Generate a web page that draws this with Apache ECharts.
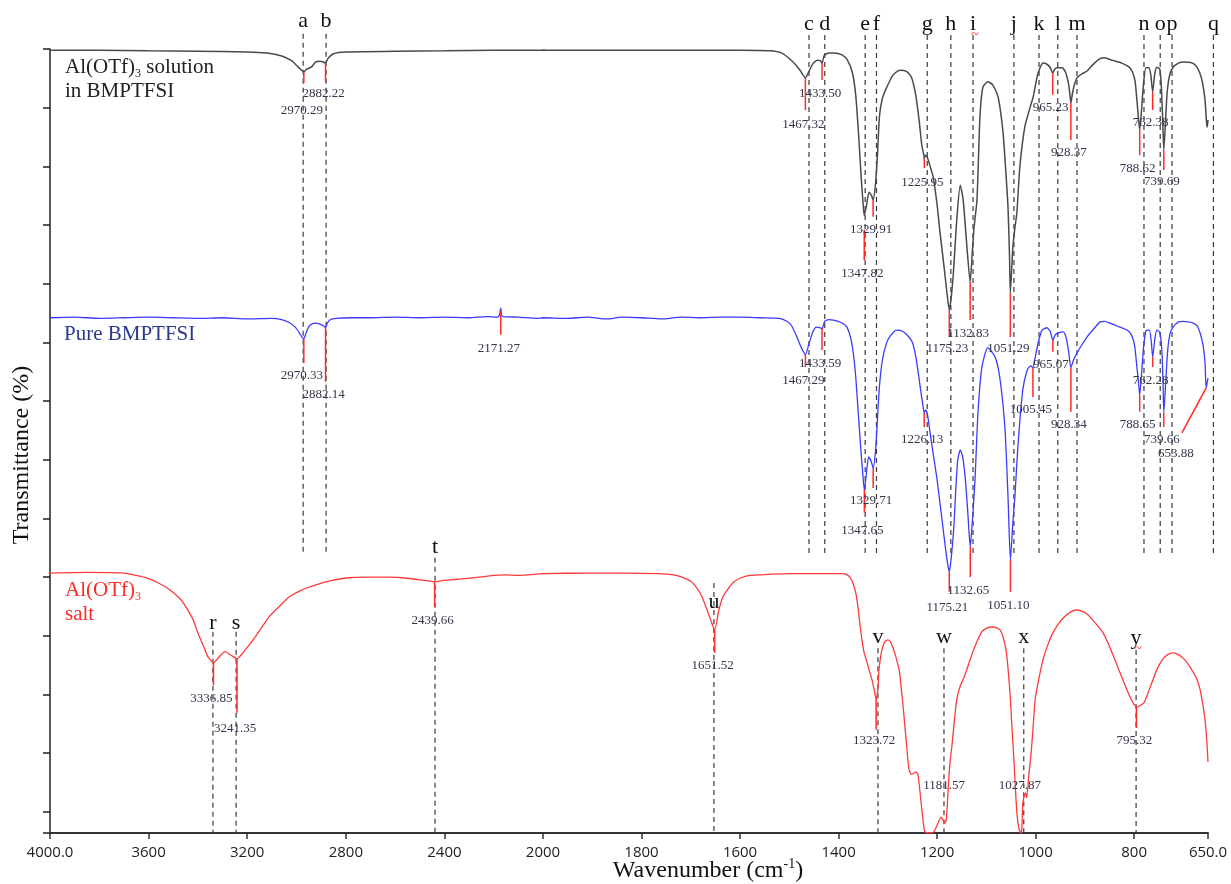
<!DOCTYPE html>
<html>
<head>
<meta charset="utf-8">
<script src="https://cdn.jsdelivr.net/npm/echarts@6/dist/echarts.min.js"></script>
<style>html,body{margin:0;padding:0;background:#fff}#chart{width:1231px;height:884px}</style>
</head>
<body>
<div id="chart"></div>
<script>
// ---------- tick labels ----------
const xTicksHigh = [4000, 3600, 3200, 2800, 2400, 2000];
const xTicksLow = [1800, 1600, 1400, 1200, 1000, 800, 650];
const yTicks = [0, 10, 20, 30, 40, 50, 60, 70, 80, 90, 100, 110, 120, 130];

// ---------- spectra [wavenumber cm-1, transmittance (offset, arb.)] ----------
const solutionSpectrum = [
[4000,129.8],[3800,129.8],[3600,129.7],[3400,129.6],[3200,129.5],[3120,129.3],[3060,128.8],[3020,128.0],[2995,127.0],[2982,126.5],[2970.29,126.1],[2958,126.6],[2940,126.9],[2922,127.8],[2905,127.9],[2892,127.8],[2882.22,127.6],[2872,128.4],[2850,129.2],[2800,129.5],[2600,129.6],[2400,129.7],[2200,129.8],[2000,129.8],[1800,129.8],[1600,129.8],[1540,129.7],[1515,129.3],[1495,128.0],[1480,126.6],[1467.32,125.1],[1460,126.2],[1452,127.5],[1443,128.1],[1437,128.0],[1433.5,127.6],[1429,128.9],[1420,129.3],[1410,129.3],[1393,129.0],[1382,128.1],[1372,126.0],[1365,122.0],[1359,115.0],[1354,108.0],[1350,103.5],[1347.82,101.6],[1343,103.5],[1338,105.6],[1333,105.0],[1329.91,104.3],[1325,107.0],[1321,112.0],[1317,118.5],[1311,121.6],[1302,123.5],[1290,125.5],[1276,126.4],[1262,126.2],[1252,125.2],[1243,122.0],[1236,117.5],[1231,113.6],[1227,112.0],[1225.95,111.4],[1223,111.9],[1220,111.6],[1214,110.0],[1208,108.2],[1200,103.5],[1194,98.7],[1186,93.0],[1180,88.5],[1175.23,85.5],[1168,90.6],[1160,100.9],[1153,106.8],[1147,104.3],[1139,95.8],[1132.83,90.3],[1128,96.0],[1125,99.5],[1119,104.3],[1113,118.4],[1107,123.5],[1097,124.4],[1087,123.9],[1076,121.8],[1066,115.7],[1060,108.5],[1056,103.0],[1053,95.0],[1051.29,88.4],[1046,96.5],[1042,99.5],[1038,102.1],[1032,109.9],[1022,116.7],[1011,120.1],[1005,121.8],[995,125.9],[985,127.6],[977,127.4],[970,126.8],[965.23,125.9],[961,126.6],[955,126.8],[946,126.8],[939,126.0],[933,124.0],[930,122.0],[928.37,120.8],[925,122.5],[921,124.0],[915,125.2],[905,125.8],[896,126.2],[884,127.3],[870,128.3],[860,128.5],[845,128.1],[825,127.6],[810,126.9],[803,126.0],[798,124.5],[794,121.0],[791,118.0],[788.62,116.2],[785,119.5],[781,124.0],[776,126.8],[770,126.8],[766,125.5],[762.38,122.7],[758,125.8],[754,126.9],[748,126.6],[745,124.0],[742,118.0],[739.69,112.8],[736,118.0],[733,122.5],[728,125.5],[721,126.9],[710,127.6],[700,127.8],[685,127.7],[675,127.2],[667,126.0],[661,124.2],[656,121.3],[653,117.5],[651.5,116.7],[650,117.9]
];
const pureSpectrum = [
[4000,84.2],[3900,84.3],[3800,84.1],[3700,84.2],[3600,84.3],[3500,84.2],[3400,84.1],[3300,84.2],[3200,84.0],[3100,84.1],[3060,83.9],[3030,83.4],[3005,82.6],[2988,81.6],[2978,80.9],[2970.33,80.6],[2962,81.5],[2950,82.7],[2935,83.2],[2920,83.3],[2905,83.1],[2890,82.8],[2882.14,82.5],[2875,83.3],[2862,83.9],[2840,84.1],[2780,84.2],[2700,84.2],[2600,84.3],[2500,84.2],[2400,84.3],[2300,84.2],[2230,84.4],[2185,84.3],[2176,84.7],[2171.27,85.9],[2168,84.6],[2160,84.4],[2100,84.3],[2020,84.1],[2000,84.2],[1950,84.1],[1910,84.3],[1870,84.0],[1840,84.3],[1800,84.2],[1760,84.0],[1720,84.3],[1680,84.2],[1640,84.3],[1600,84.3],[1560,84.2],[1520,84.1],[1505,83.6],[1495,82.8],[1485,81.0],[1476,79.2],[1467.29,77.9],[1460,79.8],[1452,81.8],[1445,82.6],[1438,82.5],[1433.59,82.3],[1428,83.6],[1420,83.9],[1410,83.8],[1395,83.4],[1383,82.6],[1373,79.8],[1366,75.0],[1360,68.0],[1355,62.0],[1350,56.8],[1347.65,54.9],[1343,58.0],[1339,60.5],[1334,59.8],[1329.71,58.6],[1325,61.5],[1321,67.0],[1317,72.5],[1311,77.0],[1303,79.8],[1295,81.1],[1282,82.1],[1270,81.9],[1258,81.0],[1250,80.0],[1243,77.5],[1236,73.5],[1231,70.5],[1228,68.9],[1226.13,68.0],[1223,68.5],[1219,67.5],[1213,63.9],[1206,60.0],[1200,56.6],[1190,49.8],[1183,45.0],[1178,42.0],[1175.21,40.9],[1171,43.5],[1166,48.5],[1162,55.0],[1158,60.0],[1153,61.7],[1148,60.5],[1143,57.0],[1138,51.5],[1135,47.5],[1132.65,45.2],[1128,50.0],[1123,56.6],[1117,68.0],[1109,75.8],[1097,79.1],[1082,77.5],[1072,73.6],[1062,65.1],[1056,53.7],[1051.1,42.9],[1046,49.5],[1042,53.7],[1036,62.2],[1026,71.9],[1017,75.3],[1010,76.0],[1005.45,75.7],[1000,77.8],[994,80.2],[987,82.1],[977,82.5],[970,81.8],[965.07,80.4],[960,81.3],[955,81.6],[944,81.8],[938,80.8],[933,78.5],[928.34,75.7],[923,77.0],[916,78.2],[906,79.6],[895,81.0],[880,82.5],[869,83.5],[860,83.6],[849,83.3],[835,82.8],[825,82.5],[812,82.0],[805,81.2],[799,79.5],[794,75.5],[790,72.3],[788.65,71.0],[785,74.5],[781,79.0],[776,82.0],[769,82.1],[765,80.0],[762.28,77.5],[758,80.5],[754,82.1],[748,81.7],[744,79.0],[741.5,74.0],[739.66,68.0],[736,73.0],[732,78.5],[727,81.5],[721,82.6],[710,83.5],[700,83.6],[690,83.5],[680,83.3],[672,82.8],[666,81.6],[660,79.5],[656,76.5],[653.88,72.2],[651.5,73.2],[650,73.9]
];
const saltSpectrum = [
[4000,40.7],[3850,40.8],[3700,40.7],[3650,40.3],[3611,39.9],[3560,39.0],[3513,37.8],[3470,36.2],[3448,34.9],[3420,32.8],[3400,30.5],[3375,28.0],[3359,26.4],[3336.85,25.4],[3314,26.4],[3290,27.3],[3266,26.7],[3241.35,26.1],[3217,27.1],[3195,28.3],[3176,29.3],[3140,31.5],[3112,33.2],[3070,35.0],[3030,36.6],[2980,37.8],[2921,38.7],[2860,39.4],[2791,39.9],[2720,40.0],[2677,40.0],[2620,40.0],[2568,39.9],[2510,39.6],[2470,39.4],[2439.66,39.2],[2410,39.4],[2389,39.5],[2330,39.7],[2280,39.9],[2200,40.3],[2150,40.4],[2100,40.3],[2000,40.6],[1900,40.7],[1844,40.7],[1765,40.6],[1735,40.4],[1718,40.0],[1700,39.3],[1689,38.3],[1678,36.8],[1669,34.9],[1660,32.8],[1651.52,31.0],[1643,34.4],[1635,36.6],[1626,37.8],[1612,39.2],[1598,39.9],[1580,40.3],[1560,40.4],[1500,40.6],[1448,40.6],[1393,40.6],[1383,40.4],[1377,40.0],[1370,38.8],[1365,37.3],[1360,34.5],[1356,31.5],[1352,29.0],[1348,27.1],[1343,25.7],[1338,24.2],[1332,22.5],[1327,20.5],[1323.72,19.1],[1320,21.0],[1318,24.2],[1315,26.2],[1312,27.6],[1306,29.0],[1300,29.3],[1295,29.0],[1290,28.1],[1284,26.5],[1277,24.2],[1272,20.5],[1267,16.2],[1262,11.5],[1257,7.2],[1252,6.4],[1247,6.6],[1243,6.8],[1239,6.4],[1236,4.5],[1233,2.0],[1229,-1.0],[1225,-3.4],[1218,-3.6],[1210,-3.6],[1204,-3.0],[1198,-1.9],[1192,-0.9],[1188,-1.4],[1184,-1.9],[1181.57,-1.5],[1179,1.5],[1176,6.0],[1173,9.0],[1170,11.1],[1165,15.5],[1160,19.1],[1153,21.5],[1145,23.0],[1131,26.4],[1120,28.8],[1109,30.7],[1099,31.3],[1089,31.5],[1080,31.4],[1072,31.0],[1066,29.8],[1060,27.6],[1056,24.5],[1052,20.3],[1048,14.5],[1044,8.9],[1041,4.0],[1038,-0.2],[1034,-2.8],[1030,-3.6],[1027.87,-3.0],[1026,1.5],[1022,3.0],[1020,3.2],[1018,2.4],[1014,6.0],[1009,10.1],[1005,14.5],[1001,19.1],[995,22.0],[985,25.9],[975,28.5],[965,30.5],[954,32.0],[942,33.2],[930,34.0],[918,34.4],[906,34.2],[894,33.6],[880,32.3],[863,30.5],[848,27.8],[831,24.2],[818,21.5],[806,19.2],[800,18.3],[795.32,17.9],[790,18.0],[780,18.6],[772,20.2],[764,22.0],[754,24.2],[743,25.9],[732,26.8],[721,27.1],[710,26.8],[697,25.9],[685,24.5],[672,22.5],[664,20.0],[656,15.7],[652,11.5],[650,8.5]
];

// ---------- peak picks [wavenumber, stick top, stick bottom, label level, (stick end wn), (label wn)] ----------
const solutionPeaks = [
[2970.29,126.1,124.2,120.5],[2882.22,127.6,124.4,123.5],[1467.32,125.1,119.6,118.2],[1433.50,127.6,124.7,123.5],
[1347.82,99.2,94.0,92.7],[1329.91,104.3,101.4,100.3],[1225.95,111.4,109.7,108.2],[1175.23,85.5,80.9,79.9],
[1132.83,90.3,83.8,82.5],[1051.29,88.4,80.9,79.9],[965.23,125.9,122.2,121.0],[928.37,120.8,114.5,113.3],
[788.62,116.2,111.9,110.6],[762.38,122.7,119.6,118.4],[739.69,112.8,109.4,108.4]
];
const purePeaks = [
[2970.33,80.6,76.5,75.3],[2882.14,82.5,73.3,72.1],[2171.27,85.4,81.3,79.9],[1467.29,77.9,75.8,74.6],
[1433.59,82.5,78.7,77.4],[1347.65,54.9,51.0,48.9],[1329.71,58.6,55.2,54.0],[1226.13,68.0,65.6,64.4],
[1175.21,40.9,37.5,35.9],[1132.65,45.2,40.0,38.7],[1051.10,42.9,37.5,36.1],[1005.45,75.7,70.7,69.5],
[965.07,80.4,78.4,77.2],[928.34,75.7,68.2,67.1],[788.65,71.0,68.2,67.1],[762.28,77.5,75.8,74.6],
[739.66,68.0,65.6,64.4],[653.88,72.2,64.6,62.0,703,711]
];
const saltPeaks = [
[3336.85,25.4,21.6,20.3],[3241.35,26.1,16.9,15.3],[2439.66,39.2,34.9,33.7],[1651.52,31.0,27.1,25.9],
[1323.72,19.1,14.0,13.1],[1181.57,5.5,5.5,5.5],[1027.87,5.5,5.5,5.5],[795.32,17.9,14.3,13.1]
];

// ---------- band assignments ----------
const bandLetters   = ['a','b','c','d','e','f','g','h','i','j','k','l','m','n','o','p','q','r','s','t','u','v','w','x','y'];
const bandPositions = [2973,2880,1460,1428,1346,1323,1220,1172,1127,1044,993,955,916,780,747,723,639,3339,3245,2438,1653,1320,1186,1024,796];
const bandLineTop    = [132.6,132.6,132.4,132.4,132.4,132.4,132.4,132.4,132.4,132.4,132.4,132.4,132.4,132.4,132.4,132.4,132.4,30.7,30.7,43.3,39.0,27.9,27.9,27.9,27.6];
const bandLineBottom = [44.0,44.0,44.0,44.0,44.0,44.0,44.0,44.0,44.0,44.0,44.0,44.0,44.0,44.0,44.0,44.0,44.0,-3.6,-3.6,-3.6,-3.6,-3.6,-3.6,-3.6,-3.6];
const bandLetterLevel = [134.7,134.7,134.2,134.2,134.2,134.2,134.2,134.2,134.2,134.2,134.2,134.2,134.2,134.2,134.2,134.2,134.2,32.2,32.2,45.1,35.8,29.8,29.8,29.8,29.6];

// ---------- build ----------
const SERIF = '"Liberation Serif", "Times New Roman", serif';
const inGrid = (g, wn) => g === 0 ? wn >= 2000 : wn < 2000;

function traceSeries(name, data, g, color, width) {
  return {
    name, type: 'line', xAxisIndex: g, yAxisIndex: g, data,
    showSymbol: false, symbol: 'none', smooth: 0.2, clip: true, z: 3,
    lineStyle: { color, width }, animation: false, silent: true
  };
}

function peakSeries(list, g) {
  const items = list.filter(p => inGrid(g, p[0]));
  return {
    type: 'custom', xAxisIndex: g, yAxisIndex: g, z: 5, silent: true, animation: false,
    data: items.map(p => [p[0], p[1]]),
    renderItem: (params, api) => {
      const p = items[params.dataIndex];
      const wnEnd = p[4] != null ? p[4] : p[0];
      const wnLab = p[5] != null ? p[5] : p[0];
      const a = api.coord([p[0], p[1]]);
      const b = api.coord([wnEnd, p[2]]);
      const l = api.coord([wnLab, p[3]]);
      const children = [];
      if (p[1] !== p[2]) {
        children.push({ type: 'line', shape: { x1: a[0], y1: a[1], x2: b[0], y2: b[1] },
          style: { stroke: '#ff2a2a', lineWidth: 1.5 } });
      }
      children.push({ type: 'text', style: { text: p[0].toFixed(2), x: l[0] - 2, y: l[1] + 6,
        align: 'center', verticalAlign: 'middle', font: '13px ' + SERIF, fill: '#33344a' } });
      return { type: 'group', children };
    }
  };
}

function bandSeries(g) {
  const idx = bandLetters.map((_, i) => i).filter(i => inGrid(g, bandPositions[i]));
  return {
    type: 'custom', xAxisIndex: g, yAxisIndex: g, z: 1, silent: true, animation: false,
    data: idx.map(i => [bandPositions[i], bandLineBottom[i]]),
    renderItem: (params, api) => {
      const i = idx[params.dataIndex];
      const t = api.coord([bandPositions[i], bandLineTop[i]]);
      const b = api.coord([bandPositions[i], bandLineBottom[i]]);
      const l = api.coord([bandPositions[i], bandLetterLevel[i]]);
      const children = [
        { type: 'line', shape: { x1: t[0], y1: t[1], x2: b[0], y2: b[1] },
          style: { stroke: '#3a3a3a', lineWidth: 1.2, lineDash: [5, 4] } },
        { type: 'text', style: { text: bandLetters[i], x: l[0], y: l[1], align: 'center',
          verticalAlign: 'middle', font: '22px ' + SERIF, fill: '#111' } }
      ];
      if (bandLetters[i] === 'i' || bandLetters[i] === 'y') {
        children.push({ type: 'text', style: { text: '~', x: l[0] + 2, y: l[1] + 11, align: 'center',
          verticalAlign: 'middle', font: '14px ' + SERIF, fill: '#ff2a2a' } });
      }
      return { type: 'group', children };
    }
  };
}

const fmtTick = v => (v === 4000 || v === 650) ? v.toFixed(1) : String(v);
const axisLabelStyle = { fontFamily: '"Open Sans", sans-serif', fontSize: 15, color: '#222', margin: 12, formatter: fmtTick };

function xAxis(g, min, max, ticks) {
  return {
    gridIndex: g, type: 'value', min, max, inverse: true,
    axisLine: { show: true, onZero: false, lineStyle: { color: '#333', width: 2 } },
    axisTick: { show: true, customValues: ticks, length: 6, lineStyle: { color: '#333', width: 1.5 } },
    axisLabel: Object.assign({ customValues: ticks }, axisLabelStyle),
    splitLine: { show: false }
  };
}
function yAxis(g, visible) {
  return {
    gridIndex: g, type: 'value', min: -3.6, max: 130, show: visible,
    axisLine: { show: true, onZero: false, lineStyle: { color: '#222', width: 1.5 } },
    axisTick: { show: true, customValues: [-3.6].concat(yTicks), length: 7, lineStyle: { color: '#222', width: 1.5 } },
    axisLabel: { show: false }, splitLine: { show: false }
  };
}

const chart = echarts.init(document.getElementById('chart'), null, { renderer: 'canvas' });
chart.setOption({
  backgroundColor: '#fff',
  animation: false,
  grid: [
    { left: 50, top: 49, right: 688, bottom: 51 },
    { left: 543, top: 49, right: 23, bottom: 51 }
  ],
  xAxis: [xAxis(0, 2000, 4000, xTicksHigh), xAxis(1, 650, 2000, xTicksLow)],
  yAxis: [yAxis(0, true), yAxis(1, false)],
  series: [
    bandSeries(0), bandSeries(1),
    traceSeries('Al(OTf)3 solution in BMPTFSI', solutionSpectrum, 0, '#4a4a4a', 1.5),
    traceSeries('Al(OTf)3 solution in BMPTFSI', solutionSpectrum, 1, '#4a4a4a', 1.5),
    traceSeries('Pure BMPTFSI', pureSpectrum, 0, '#3b3bff', 1.3),
    traceSeries('Pure BMPTFSI', pureSpectrum, 1, '#3b3bff', 1.3),
    traceSeries('Al(OTf)3 salt', saltSpectrum, 0, '#ff3a3a', 1.3),
    traceSeries('Al(OTf)3 salt', saltSpectrum, 1, '#ff3a3a', 1.3),
    peakSeries(solutionPeaks, 0), peakSeries(solutionPeaks, 1),
    peakSeries(purePeaks, 0), peakSeries(purePeaks, 1),
    peakSeries(saltPeaks, 0), peakSeries(saltPeaks, 1)
  ],
  graphic: [
    { type: 'text', left: 65, top: 57, style: {
      text: '{m|Al(OTf)}{s|3}{m| solution}\n{m|in BMPTFSI}', fill: '#222',
      rich: { m: { font: '21px ' + SERIF, fill: '#222', lineHeight: 24 }, s: { font: '12px ' + SERIF, fill: '#222', lineHeight: 24, verticalAlign: 'bottom' } } } },
    { type: 'text', left: 64, top: 324, style: { text: 'Pure BMPTFSI', font: '21px ' + SERIF, fill: '#2b3a8c' } },
    { type: 'text', left: 65, top: 580, style: {
      text: '{m|Al(OTf)}{s|3}\n{m|salt}', fill: '#ff2a2a',
      rich: { m: { font: '21px ' + SERIF, fill: '#ff2a2a', lineHeight: 24 }, s: { font: '12px ' + SERIF, fill: '#ff2a2a', lineHeight: 24, verticalAlign: 'bottom' } } } },
    { type: 'text', x: 22, y: 455, rotation: Math.PI / 2, style: { text: 'Transmittance (%)', font: '24px ' + SERIF, fill: '#111', align: 'center', verticalAlign: 'middle' } },
    { type: 'text', x: 708, y: 871, style: {
      text: '{m|Wavenumber (cm}{u|-1}{m|)}', align: 'center', verticalAlign: 'middle',
      rich: { m: { font: '24px ' + SERIF, fill: '#111', lineHeight: 28 }, u: { font: '14px ' + SERIF, fill: '#111', lineHeight: 28, verticalAlign: 'top' } } } }
  ]
});
</script>
</body>
</html>
